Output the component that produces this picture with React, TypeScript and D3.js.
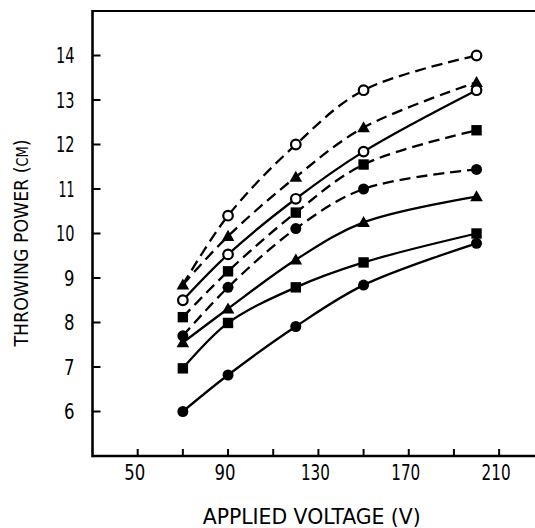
import React from "react";
import * as d3 from "d3";

const voltages = [70, 90, 120, 150, 200];
const dashedOpenCircle = [8.85, 10.4, 12.0, 13.22, 14.0];
const dashedTriangle = [8.85, 9.94, 11.27, 12.38, 13.4];
const solidOpenCircle = [8.5, 9.53, 10.78, 11.84, 13.22];
const dashedSquare = [8.12, 9.15, 10.47, 11.55, 12.32];
const dashedFilledCircle = [7.7, 8.79, 10.11, 11.0, 11.44];
const solidTriangle = [7.55, 8.31, 9.41, 10.25, 10.83];
const solidSquare = [6.97, 7.99, 8.79, 9.35, 10.0];
const solidFilledCircle = [6.0, 6.82, 7.91, 8.84, 9.78];

const xTickValues = [50, 70, 90, 110, 130, 150, 170, 190, 210, 230];
const xTickLabels = [50, 90, 130, 170, 210];
const yTickValues = [6, 7, 8, 9, 10, 11, 12, 13, 14];

type Marker = "openCircle" | "filledCircle" | "square" | "triangle";
const series: { values: number[]; marker: Marker; dashed: boolean; hideFirst?: boolean }[] = [
  { values: dashedOpenCircle, marker: "openCircle", dashed: true, hideFirst: true },
  { values: dashedTriangle, marker: "triangle", dashed: true },
  { values: solidOpenCircle, marker: "openCircle", dashed: false },
  { values: dashedSquare, marker: "square", dashed: true },
  { values: dashedFilledCircle, marker: "filledCircle", dashed: true },
  { values: solidTriangle, marker: "triangle", dashed: false },
  { values: solidSquare, marker: "square", dashed: false },
  { values: solidFilledCircle, marker: "filledCircle", dashed: false },
];

const W = 535;
const H = 528;
const FONT = "'DejaVu Sans Condensed', 'DejaVu Sans', sans-serif";

const labelWidth = (s: string) =>
  s.split("").reduce((acc, c) => acc + (c === "1" ? 8 : 10.5), 0);

export default function App() {
  const x = d3.scaleLinear().domain([30, 230]).range([92.5, 544.3]);
  const y = d3.scaleLinear().domain([5, 15]).range([456, 11]);
  const line = d3
    .line<[number, number]>()
    .x((d) => x(d[0]))
    .y((d) => y(d[1]))
    .curve(d3.curveCatmullRom.alpha(0.5));

  const markerEl = (m: Marker, cx: number, cy: number, key: string) => {
    if (m === "openCircle")
      return <circle key={key} cx={cx} cy={cy} r={4.8} fill="#fff" stroke="#000" strokeWidth={2.2} />;
    if (m === "filledCircle") return <circle key={key} cx={cx} cy={cy} r={5.5} fill="#000" />;
    if (m === "square") return <rect key={key} x={cx - 5.2} y={cy - 5.2} width={10.4} height={10.4} fill="#000" />;
    const s = 6.3;
    return (
      <path
        key={key}
        d={`M${cx},${cy - s} L${cx + s},${cy + s * 0.75} L${cx - s},${cy + s * 0.75} Z`}
        fill="#000"
      />
    );
  };

  const x0 = x(30);
  const yBottom = y(5);
  const yTop = y(15);

  return (
    <svg
      width={W}
      height={H}
      style={{ position: "absolute", left: 0, top: 0, background: "#fff" }}
      fontFamily={FONT}
    >
      <rect x={0} y={0} width={W} height={H} fill="#fff" />
      {/* frame */}
      <line x1={x0} x2={W} y1={yTop} y2={yTop} stroke="#000" strokeWidth={2.2} />
      <line x1={x0} x2={W} y1={yBottom} y2={yBottom} stroke="#000" strokeWidth={2.6} />
      <line x1={x0} x2={x0} y1={yTop - 1} y2={yBottom + 1.3} stroke="#000" strokeWidth={2.6} />

      {/* x ticks */}
      {xTickValues.map((v) => (
        <line key={"xt" + v} x1={x(v)} x2={x(v)} y1={yBottom} y2={yBottom - 7} stroke="#000" strokeWidth={2} />
      ))}
      {xTickLabels.map((v) => (
        <text
          key={"xl" + v}
          x={x(v) - 3}
          y={480}
          textAnchor="middle"
          fontSize={21}
          fill="#000"
          textLength={labelWidth(String(v))}
          lengthAdjust="spacingAndGlyphs"
        >
          {v}
        </text>
      ))}

      {/* y ticks */}
      {yTickValues.map((v) => (
        <line key={"yt" + v} x1={x0} x2={x0 + 8} y1={y(v)} y2={y(v)} stroke="#000" strokeWidth={2} />
      ))}
      {yTickValues.map((v) => (
        <text
          key={"yl" + v}
          x={74.5}
          y={y(v) + 7.5}
          textAnchor="end"
          fontSize={21}
          fill="#000"
          textLength={labelWidth(String(v))}
          lengthAdjust="spacingAndGlyphs"
        >
          {v}
        </text>
      ))}

      {/* axis titles */}
      <text
        x={311.7}
        y={524}
        textAnchor="middle"
        fontSize={22}
        fill="#000"
        textLength={218}
        lengthAdjust="spacingAndGlyphs"
      >
        APPLIED VOLTAGE (V)
      </text>
      <text
        transform={`translate(27.5, 243) rotate(-90)`}
        textAnchor="middle"
        fontSize={20}
        fill="#000"
        textLength={207}
        lengthAdjust="spacingAndGlyphs"
      >
        THROWING POWER (<tspan fontSize={15}>CM</tspan>)
      </text>

      {/* lines */}
      {series.map((s, i) => (
        <path
          key={"l" + i}
          d={line(voltages.map((v, j) => [v, s.values[j]] as [number, number])) || ""}
          fill="none"
          stroke="#000"
          strokeWidth={2.3}
          strokeDasharray={s.dashed ? "11,6" : undefined}
        />
      ))}

      {/* markers */}
      {series.map((s, i) =>
        voltages.map((v, j) =>
          s.hideFirst && j === 0 ? null : markerEl(s.marker, x(v), y(s.values[j]), `m${i}-${j}`)
        )
      )}
    </svg>
  );
}
